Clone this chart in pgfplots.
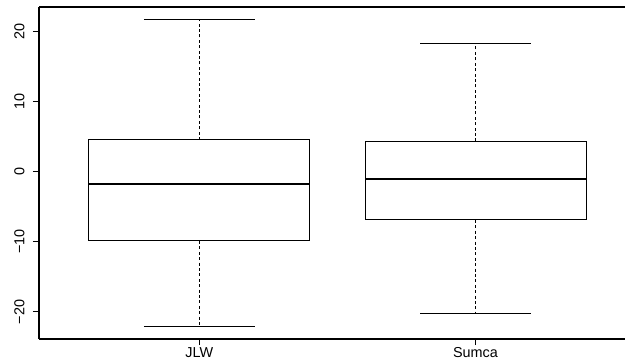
\documentclass[border=0pt]{standalone}
\usepackage{fontspec}
\setmainfont{Liberation Sans}
\usepackage{pgfplots}
\pgfplotsset{compat=1.18}
\usepgfplotslibrary{statistics}
\pgfplotsset{
  /pgfplots/boxplot/draw/lower whisker/.code={
    \draw[black,line width=0.5pt,dash pattern=on 1.5pt off 1.2pt]
      (boxplot box cs:\pgfplotsboxplotvalue{lower quartile},0.5)
      -- (boxplot box cs:\pgfplotsboxplotvalue{lower whisker},0.5);
    \draw[black,line width=0.5pt]
      (boxplot whisker cs:\pgfplotsboxplotvalue{lower whisker},0)
      -- (boxplot whisker cs:\pgfplotsboxplotvalue{lower whisker},1);
  },
  /pgfplots/boxplot/draw/upper whisker/.code={
    \draw[black,line width=0.5pt,dash pattern=on 1.5pt off 1.2pt]
      (boxplot box cs:\pgfplotsboxplotvalue{upper quartile},0.5)
      -- (boxplot box cs:\pgfplotsboxplotvalue{upper whisker},0.5);
    \draw[black,line width=0.5pt]
      (boxplot whisker cs:\pgfplotsboxplotvalue{upper whisker},0)
      -- (boxplot whisker cs:\pgfplotsboxplotvalue{upper whisker},1);
  },
}
\begin{document}
\begin{tikzpicture}[font=\fontsize{7.2}{8.5}\selectfont]
\begin{axis}[name=ax, scale only axis, width=293pt, height=166pt,
  xmin=0.42, xmax=2.541, ymin=-23.86, ymax=23.43,
  axis x line=box, axis y line=left,
  x axis line style={-}, y axis line style={-},
  axis line style={line width=0.75pt, black},
  tick align=outside, xtick pos=left,
  major tick length=3pt,
  tick style={black, line width=0.5pt},
  xtick={1,2}, xticklabels={JLW,Sumca},
  ytick={-20,-10,0,10,20}, yticklabels={−20,−10,0,10,20},
  yticklabel style={rotate=90, anchor=south, inner sep=1pt},
  yticklabel shift=3pt,
  xticklabel style={inner sep=1pt},
  boxplot/draw direction=y,
  boxplot/box extend=0.8, boxplot/whisker extend=0.4,
  boxplot/every median/.style={line width=1pt, black},
  boxplot/every box/.style={line width=0.5pt, black},
]
\addplot[black, boxplot prepared={draw position=1,
  lower whisker=-22.08, lower quartile=-9.9, median=-1.85,
  upper quartile=4.49, upper whisker=21.6}] coordinates {};
\addplot[black, boxplot prepared={draw position=2,
  lower whisker=-20.25, lower quartile=-6.9, median=-1.03,
  upper quartile=4.3, upper whisker=18.3}] coordinates {};
\end{axis}
\pgfresetboundingbox
\path[use as bounding box] ([xshift=-19.5pt,yshift=-10.5pt]ax.south west) rectangle ++(312.5pt,180pt);
\end{tikzpicture}
\end{document}
